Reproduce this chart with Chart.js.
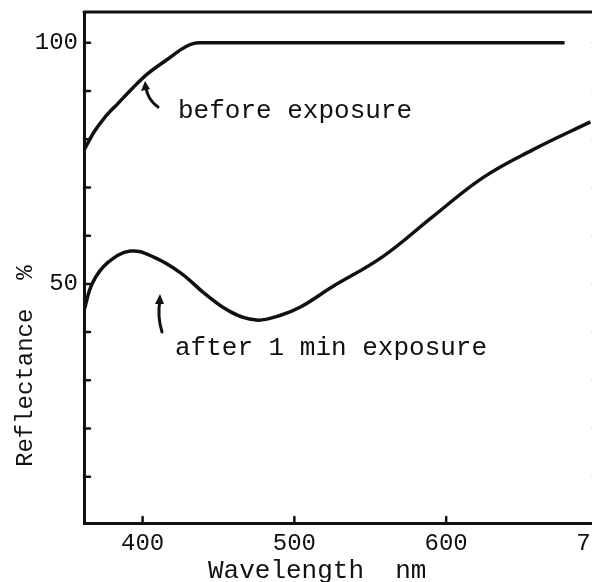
<!DOCTYPE html>
<html lang="en">
<head>
    <meta charset="UTF-8">
    <title>Reflectance vs wavelength</title>
    <style>
        html, body {
            margin: 0;
            padding: 0;
            background: #fff;
            overflow: hidden;
        }
        #wrap {
            width: 620px;
            height: 582px;
        }
    </style>
    <script src="https://cdn.jsdelivr.net/npm/chart.js"></script>
</head>
<body>
    <div id="wrap"><canvas id="chart" width="620" height="582"></canvas></div>

    <script>
        // Curve readings (wavelength nm, reflectance %)
        const beforeWl = [361.5, 368, 375, 384, 394, 403, 416, 429, 437, 450, 678];
        const beforeVal = [77.8, 81.5, 84.5, 87.5, 90.8, 93.5, 96.5, 99.3, 100, 100, 100];

        const afterWl = [361.5, 367, 377, 392, 407, 425, 442, 458, 475, 490, 504, 525, 558, 591, 624, 657, 695];
        const afterVal = [44.6, 50.2, 54.4, 56.8, 55.6, 52.3, 47.7, 44.2, 42.5, 43.4, 45.2, 49.4, 55.6, 63.9, 72.0, 77.8, 83.6];

        const xTickLabels = [400, 500, 600, 700];
        const yTickLabels = [100, 50];
        const yMinorTicks = [10, 20, 30, 40, 50, 60, 70, 80, 90, 100];

        const ink = '#111';
        const mono = "'Liberation Mono', 'DejaVu Sans Mono', monospace";

        function toPoints(xs, ys) {
            return xs.map((x, i) => ({ x: x, y: ys[i] }));
        }

        // frame, inward tick stubs, annotations and axis titles
        const decor = {
            id: 'decor',
            afterDraw(chart) {
                const ctx = chart.ctx;
                const a = chart.chartArea;
                const xs = chart.scales.x;
                const ys = chart.scales.y;
                ctx.save();
                ctx.strokeStyle = ink;
                ctx.fillStyle = ink;
                ctx.lineCap = 'round';

                // top and right of frame
                ctx.lineWidth = 3;
                ctx.beginPath();
                ctx.moveTo(a.left, a.top);
                ctx.lineTo(a.right, a.top);
                ctx.lineTo(a.right, a.bottom);
                ctx.stroke();

                // tick stubs pointing inward
                ctx.lineWidth = 2.5;
                ctx.beginPath();
                yMinorTicks.forEach(v => {
                    const py = ys.getPixelForValue(v);
                    ctx.moveTo(a.left, py);
                    ctx.lineTo(a.left + 6, py);
                    ctx.moveTo(a.right, py);
                    ctx.lineTo(a.right - 8, py);
                });
                xTickLabels.forEach(v => {
                    const px = xs.getPixelForValue(v);
                    ctx.moveTo(px, a.bottom);
                    ctx.lineTo(px, a.bottom - 6);
                });
                ctx.stroke();

                // little hand-drawn arrows
                ctx.lineWidth = 3;
                ctx.beginPath();
                ctx.moveTo(158, 107);
                ctx.quadraticCurveTo(147, 99, 146, 87);
                ctx.moveTo(162, 332);
                ctx.quadraticCurveTo(157, 316, 160, 300);
                ctx.stroke();
                ctx.beginPath();
                ctx.moveTo(145, 81);
                ctx.lineTo(141, 91);
                ctx.lineTo(150, 89);
                ctx.closePath();
                ctx.moveTo(160, 294);
                ctx.lineTo(155, 304);
                ctx.lineTo(164, 304);
                ctx.closePath();
                ctx.fill();

                // curve labels
                ctx.font = '26px ' + mono;
                ctx.textBaseline = 'middle';
                ctx.textAlign = 'left';
                ctx.fillText('before exposure', 178, 111);
                ctx.fillText('after 1 min exposure', 175, 348);

                // axis titles
                ctx.fillText('Wavelength  nm', 208, 571);
                ctx.font = '24px ' + mono;
                ctx.translate(26, 467);
                ctx.rotate(-Math.PI / 2);
                ctx.fillText('Reflectance  %', 0, 0);
                ctx.restore();
            }
        };

        new Chart(document.getElementById('chart'), {
            type: 'line',
            data: {
                datasets: [{
                    label: 'before exposure',
                    data: toPoints(beforeWl, beforeVal),
                    borderColor: ink,
                    borderWidth: 3.5,
                    pointRadius: 0,
                    cubicInterpolationMode: 'monotone',
                    fill: false
                }, {
                    label: 'after 1 min exposure',
                    data: toPoints(afterWl, afterVal),
                    borderColor: ink,
                    borderWidth: 3.5,
                    pointRadius: 0,
                    tension: 0.4,
                    fill: false
                }]
            },
            options: {
                responsive: false,
                animation: false,
                devicePixelRatio: 1,
                layout: { padding: { top: 12, right: 19, left: 0, bottom: 0 } },
                plugins: {
                    legend: { display: false },
                    tooltip: { enabled: false }
                },
                scales: {
                    x: {
                        type: 'linear',
                        min: 361.4,
                        max: 702,
                        afterFit(scale) {
                            scale.height = 59;
                            scale.paddingLeft = 0;
                            scale.paddingRight = 0;
                        },
                        afterBuildTicks(scale) {
                            scale.ticks = xTickLabels.map(v => ({ value: v }));
                        },
                        border: { display: true, color: ink, width: 3 },
                        grid: { display: false, drawTicks: false },
                        ticks: {
                            autoSkip: false,
                            maxRotation: 0,
                            padding: 6,
                            color: ink,
                            font: { family: mono, size: 24 }
                        }
                    },
                    y: {
                        min: 0.4,
                        max: 106.4,
                        afterFit(scale) {
                            scale.width = 84;
                            scale.paddingTop = 0;
                            scale.paddingBottom = 0;
                        },
                        afterBuildTicks(scale) {
                            scale.ticks = yTickLabels.map(v => ({ value: v }));
                        },
                        border: { display: true, color: ink, width: 3 },
                        grid: { display: false, drawTicks: false },
                        ticks: {
                            autoSkip: false,
                            padding: 6,
                            color: ink,
                            font: { family: mono, size: 24 }
                        }
                    }
                }
            },
            plugins: [decor]
        });
    </script>
</body>
</html>
